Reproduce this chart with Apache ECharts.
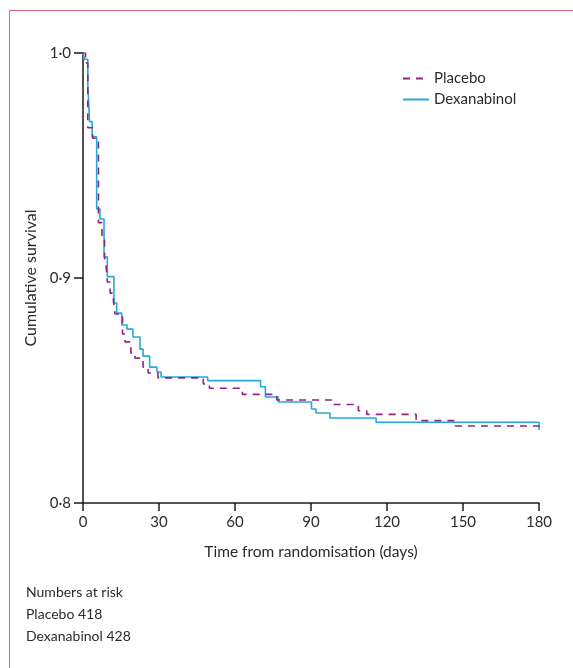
<!DOCTYPE html>
<html>
<head>
<meta charset="utf-8">
<script src="https://cdn.jsdelivr.net/npm/echarts@6/dist/echarts.min.js"></script>
<style>
  html, body { margin: 0; padding: 0; background: #fff; }
  #chart { width: 573px; height: 668px; }
</style>
</head>
<body>
<div id="chart"></div>
<script>
// Kaplan-Meier steps: [day, cumulative survival]
const placebo = [
  [0, 1.0], [1.0, 0.9956], [1.9, 0.9668], [3.8, 0.9621], [6.1, 0.9246],
  [7.5, 0.9169], [8.5, 0.9089], [9.1, 0.9058], [9.6, 0.8982], [10.7, 0.8933],
  [12.0, 0.8898], [12.6, 0.884], [15.6, 0.8751], [16.6, 0.8716], [18.9, 0.8667],
  [20.5, 0.8644], [23.7, 0.8604], [25.7, 0.8578], [29.6, 0.8556], [47.5, 0.8529],
  [49.9, 0.851], [62.9, 0.8483], [74.5, 0.8473], [76.5, 0.8458], [98.8, 0.8438],
  [108.7, 0.841], [112, 0.8394], [131.5, 0.8366], [146.9, 0.8342], [180, 0.8342],
  [180, 0.8324]
]
const dexanabinol = [
  [0, 1.0], [0.5, 0.9972], [1.9, 0.9858], [2.6, 0.9695], [3.6, 0.9628],
  [5.4, 0.9307], [6.7, 0.9262], [8.3, 0.9093], [9.6, 0.9006], [12.2, 0.8889],
  [13.3, 0.8844], [15.3, 0.8791], [17.4, 0.8773], [19.7, 0.8738], [22.5, 0.8684],
  [23.7, 0.8653], [26.3, 0.8604], [29.2, 0.8582], [30.8, 0.856], [49.2, 0.8544],
  [70.1, 0.8517], [72, 0.8471], [77.1, 0.8449], [90.2, 0.8418], [92, 0.84],
  [97.5, 0.8378], [115.7, 0.8359], [180, 0.8359], [180, 0.8324]
]
const xTicks = [0, 30, 60, 90, 120, 150, 180]
const yTicks = [0.8, 0.9, 1.0]
const seriesNames = ['Placebo', 'Dexanabinol']
const atRisk = [418, 428]

const FONT = 'Lato, "Open Sans", sans-serif'
const TEXT = '#2b2b2b'

const chart = echarts.init(document.getElementById('chart'), null, { renderer: 'canvas' })

const option = {
  backgroundColor: '#fff',
  animation: false,
  grid: { left: 83, top: 53, width: 456, height: 450 },
  legend: {
    left: 397, top: 66, orient: 'vertical',
    itemWidth: 26, itemHeight: 10, itemGap: 6,
    itemStyle: { opacity: 0 },
    textStyle: { color: TEXT, fontSize: 15, fontFamily: FONT },
    data: seriesNames,
  },
  xAxis: {
    type: 'value', min: 0, max: 180, interval: 30,
    name: 'Time from randomisation (days)',
    nameLocation: 'middle', nameGap: 41,
    nameTextStyle: { color: TEXT, fontSize: 15.5, fontFamily: FONT },
    axisLine: { onZero: false, lineStyle: { color: '#1a1a1a', width: 1.5 } },
    axisTick: { length: 8, lineStyle: { color: '#1a1a1a', width: 1.5 } },
    axisLabel: { color: TEXT, fontSize: 15, fontFamily: FONT, margin: 12,
      formatter: v => xTicks.includes(v) ? String(v) : '' },
    splitLine: { show: false },
  },
  yAxis: {
    type: 'value', min: 0.8, max: 1.0, interval: 0.1,
    name: 'Cumulative survival',
    nameLocation: 'middle', nameGap: 41, nameRotate: 90,
    nameTextStyle: { color: TEXT, fontSize: 16, fontFamily: FONT },
    axisLine: { show: true, lineStyle: { color: '#1a1a1a', width: 1.5 } },
    axisTick: { show: true, length: 9, lineStyle: { color: '#1a1a1a', width: 1.5 } },
    axisLabel: { color: TEXT, fontSize: 15, fontFamily: FONT, margin: 12,
      formatter: v => {
        const t = yTicks.find(y => Math.abs(y - v) < 1e-6)
        return t === undefined ? '' : t.toFixed(1).replace('.', '\u00b7')
      } },
    splitLine: { show: false },
  },
  series: [
    {
      name: seriesNames[0], type: 'line', step: 'end',
      data: placebo, symbol: 'none', z: 3,
      lineStyle: { color: '#8e2483', width: 1.6, type: [7, 6] },
      itemStyle: { color: '#8e2483' },
    },
    {
      name: seriesNames[1], type: 'line', step: 'end',
      data: dexanabinol, symbol: 'none', z: 2,
      lineStyle: { color: '#25a9d8', width: 1.6 },
      itemStyle: { color: '#25a9d8' },
    },
  ],
  graphic: [
    {
      type: 'rect', silent: true,
      shape: { x: 9.5, y: 10.5, width: 700, height: 800 },
      style: { fill: 'none', stroke: '#d8657e', lineWidth: 1 },
    },
    {
      type: 'text', x: 26, y: 592,
      style: { text: 'Numbers at risk', fill: TEXT, font: '14px ' + FONT, verticalAlign: 'middle' },
    },
    {
      type: 'text', x: 26, y: 614,
      style: { text: seriesNames[0] + ' ' + atRisk[0], fill: TEXT, font: '14px ' + FONT, verticalAlign: 'middle' },
    },
    {
      type: 'text', x: 26, y: 636,
      style: { text: seriesNames[1] + ' ' + atRisk[1], fill: TEXT, font: '14px ' + FONT, verticalAlign: 'middle' },
    },
  ],
}

chart.setOption(option)
</script>
</body>
</html>
